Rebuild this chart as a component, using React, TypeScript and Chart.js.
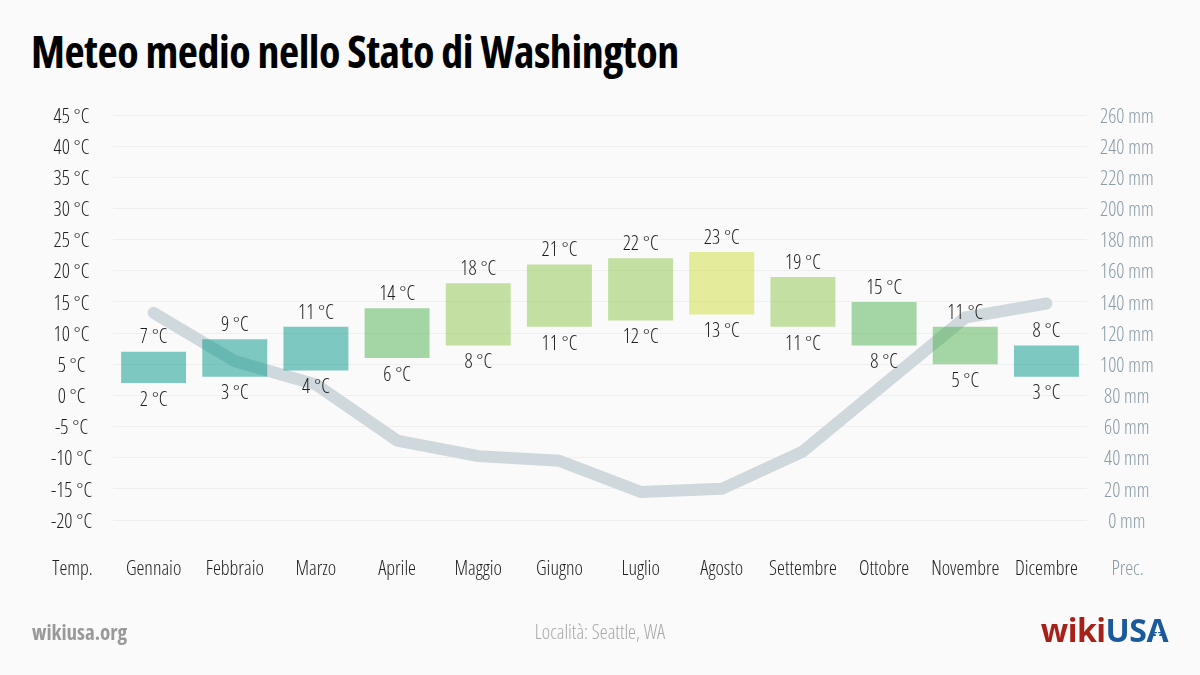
import React, { useEffect, useRef } from "react";
import { Chart, registerables } from "chart.js";

Chart.register(...registerables);

const months = ["Gennaio", "Febbraio", "Marzo", "Aprile", "Maggio", "Giugno", "Luglio", "Agosto", "Settembre", "Ottobre", "Novembre", "Dicembre"];
const tempMax = [7, 9, 11, 14, 18, 21, 22, 23, 19, 15, 11, 8];
const tempMin = [2, 3, 4, 6, 8, 11, 12, 13, 11, 8, 5, 3];
const precipitation = [133, 102, 87, 51, 41, 38, 18, 20, 44, 87, 130, 139];
const tempAxis = { min: -20, max: 45, step: 5, unit: "°C", label: "Temp." };
const precAxis = { min: 0, max: 260, step: 20, unit: "mm", label: "Prec." };

const TEAL = "rgba(0,150,136,0.5)";
const GREEN = "rgba(76,175,80,0.5)";
const LGREEN = "rgba(139,195,74,0.5)";
const LIME = "rgba(205,220,57,0.5)";
const barColors = [TEAL, TEAL, TEAL, GREEN, LGREEN, LGREEN, LGREEN, LIME, LGREEN, GREEN, GREEN, TEAL];

const FAMILY = "'Open Sans', 'Noto Sans', sans-serif";
const WEIGHT = "350 condensed";
const DARK = "#1e1e1e";
const GREY = "#8A9CA5";
const X_PAD = 37;
const FS = 20;

const sideLabels = {
  id: "sideLabels",
  afterDraw(chart: any) {
    const { ctx, scales } = chart;
    const x = scales.x;
    ctx.save();
    ctx.font = `${WEIGHT} ${FS}px ${FAMILY}`;
    ctx.textAlign = "center";
    ctx.textBaseline = "middle";
    const yy = x.top + X_PAD + (FS * 1.2) / 2;
    ctx.fillStyle = DARK;
    ctx.fillText(tempAxis.label, (scales.y.left + scales.y.right) / 2, yy);
    ctx.fillStyle = GREY;
    ctx.fillText(precAxis.label, (scales.y1.left + scales.y1.right) / 2, yy);
    ctx.restore();
  },
};

const barLabels = {
  id: "barLabels",
  afterDatasetsDraw(chart: any) {
    const { ctx } = chart;
    const meta = chart.getDatasetMeta(0);
    ctx.save();
    ctx.font = `${WEIGHT} ${FS}px ${FAMILY}`;
    ctx.fillStyle = DARK;
    ctx.textAlign = "center";
    ctx.textBaseline = "middle";
    meta.data.forEach((el: any, i: number) => {
      const top = Math.min(el.y, el.base);
      const bottom = Math.max(el.y, el.base);
      ctx.fillText(`${tempMax[i]} ${tempAxis.unit}`, el.x, top - 14);
      ctx.fillText(`${tempMin[i]} ${tempAxis.unit}`, el.x, bottom + 17);
    });
    ctx.restore();
  },
};

export default function App() {
  const ref = useRef<HTMLCanvasElement | null>(null);

  useEffect(() => {
    document.body.style.margin = "0";
    const canvas = ref.current;
    if (!canvas) return;
    const chart = new Chart(canvas, {
      type: "bar",
      data: {
        labels: months,
        datasets: [
          {
            type: "bar",
            data: months.map((_, i) => [tempMin[i], tempMax[i]]),
            backgroundColor: barColors,
            borderWidth: 0,
            barPercentage: 0.8,
            categoryPercentage: 1,
            yAxisID: "y",
            order: 1,
          } as any,
          {
            type: "line",
            data: precipitation,
            borderColor: "#CFD8DC",
            borderWidth: 12,
            borderCapStyle: "round",
            borderJoinStyle: "round",
            pointRadius: 0,
            tension: 0,
            yAxisID: "y1",
            order: 2,
          } as any,
        ],
      },
      options: {
        responsive: false,
        animation: false,
        devicePixelRatio: 1,
        layout: { padding: { left: 32, right: 32, top: 115, bottom: 0 } },
        plugins: { legend: { display: false }, tooltip: { enabled: false }, title: { display: false } },
        scales: {
          x: {
            grid: { display: false, drawTicks: false },
            border: { display: false },
            ticks: { color: DARK, padding: X_PAD, font: { family: FAMILY, size: FS, weight: WEIGHT as any }, maxRotation: 0, autoSkip: false },
            afterFit: (s: any) => { s.height = 675 - 520; },
          },
          y: {
            position: "left",
            min: tempAxis.min,
            max: tempAxis.max,
            grid: { color: "#EFEFEF", drawTicks: false },
            border: { display: false },
            ticks: {
              stepSize: tempAxis.step,
              color: DARK,
              padding: 21,
              labelOffset: 2,
              crossAlign: "center",
              font: { family: FAMILY, size: FS, weight: WEIGHT as any },
              callback: (v: any) => `${v} ${tempAxis.unit}`,
            },
            afterFit: (s: any) => { s.width = 81; },
          },
          y1: {
            position: "right",
            min: precAxis.min,
            max: precAxis.max,
            grid: { display: false, drawTicks: false },
            border: { display: false },
            ticks: {
              stepSize: precAxis.step,
              color: GREY,
              padding: 13,
              labelOffset: 2,
              crossAlign: "center",
              font: { family: FAMILY, size: FS, weight: WEIGHT as any },
              callback: (v: any) => `${v} ${precAxis.unit}`,
            },
            afterFit: (s: any) => { s.width = 81; },
          },
        },
      },
      plugins: [barLabels, sideLabels],
    });
    return () => chart.destroy();
  }, []);

  return (
    <div style={{ position: "absolute", left: 0, top: 0, width: 1200, height: 675, background: "#FAFAFA", overflow: "hidden", fontFamily: FAMILY }}>
      <div style={{ position: "absolute", left: 31, top: 21, fontSize: 44, fontWeight: 700, fontStretch: "condensed", letterSpacing: "-0.5px", color: "#000", lineHeight: "60px", whiteSpace: "nowrap" }}>
        Meteo medio nello Stato di Washington
      </div>
      <canvas ref={ref} width={1200} height={675} style={{ position: "absolute", left: 0, top: 0, width: 1200, height: 675 }} />
      <div style={{ position: "absolute", left: 32, top: 617, fontSize: 21, fontWeight: 700, fontStretch: "condensed", color: "#999", lineHeight: "30px" }}>wikiusa.org</div>
      <div style={{ position: "absolute", left: 0, width: 1200, textAlign: "center", top: 617, fontSize: 20, fontWeight: 300, fontStretch: "condensed", color: "#A8A8A8", lineHeight: "30px" }}>Località: Seattle, WA</div>
      <div style={{ position: "absolute", right: 32, top: 609, fontSize: 32, fontWeight: 700, lineHeight: "42px", whiteSpace: "nowrap", letterSpacing: "-0.5px" }}>
        <span style={{ color: "#A8201A" }}>wiki</span>
        <span style={{ color: "#1A5A9C" }}>US</span>
        <span style={{ color: "#1A5A9C", position: "relative" }}>
          A
          <span style={{ position: "absolute", left: "50%", top: "60%", transform: "translate(-50%,-50%)", fontSize: 8, color: "#FFFFFF", lineHeight: "8px" }}>★</span>
        </span>
      </div>
    </div>
  );
}
